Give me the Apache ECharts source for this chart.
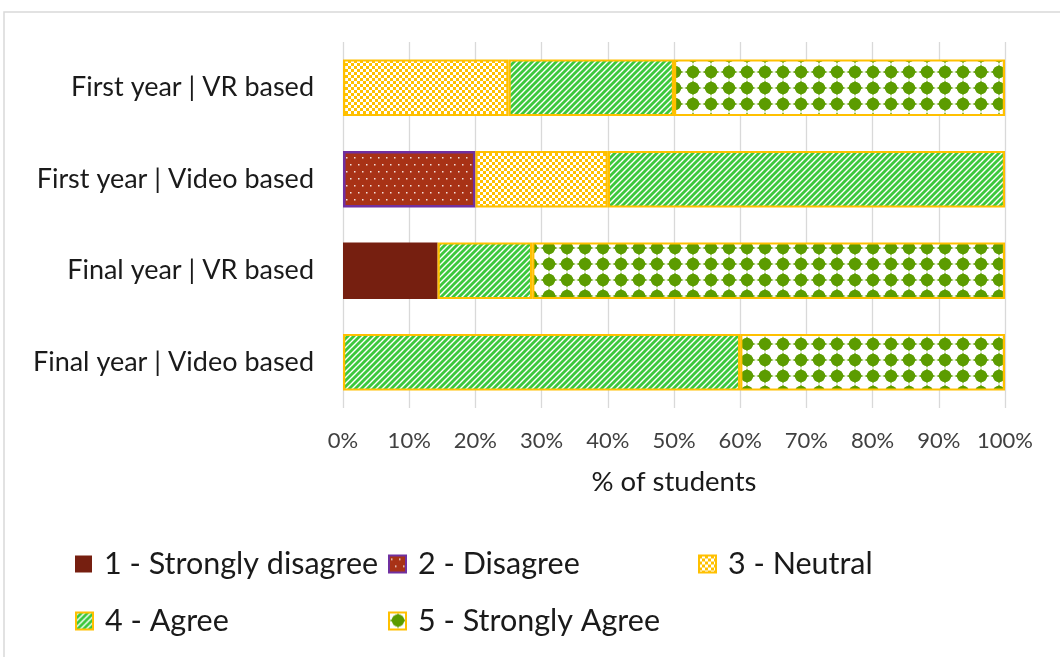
<!DOCTYPE html>
<html>
<head>
<meta charset="utf-8">
<script src="https://cdn.jsdelivr.net/npm/echarts@6/dist/echarts.min.js"></script>
<style>
  html, body { margin: 0; padding: 0; background: #fff; }
  #chart { width: 1060px; height: 657px; }
</style>
</head>
<body>
<div id="chart"></div>
<script>
// Survey responses per student group, as % of students (top to bottom)
const categories = [
  'First year | VR based',
  'First year | Video based',
  'Final year | VR based',
  'Final year | Video based'
];
const levelNames = [
  '1 - Strongly disagree',
  '2 - Disagree',
  '3 - Neutral',
  '4 - Agree',
  '5 - Strongly Agree'
];
const stronglyDisagree = [0, 0, 14.29, 0];
const disagree         = [0, 20, 0, 0];
const neutral          = [25, 20, 0, 0];
const agree            = [25, 60, 14.29, 60];
const stronglyAgree    = [50, 0, 71.43, 40];
const xTicks = [0, 10, 20, 30, 40, 50, 60, 70, 80, 90, 100];

const FONT = 'Lato, "Open Sans", sans-serif';
const YELLOW = '#FFC000';

// ---- fill patterns drawn on small canvas tiles ----
function tile(w, h, draw) {
  const c = document.createElement('canvas');
  c.width = w; c.height = h;
  draw(c.getContext('2d'), w, h);
  return { image: c, repeat: 'repeat' };
}
const checkerFill = tile(6, 6, (g) => {
  g.fillStyle = '#fff'; g.fillRect(0, 0, 6, 6);
  g.fillStyle = YELLOW;
  g.fillRect(0, 0, 3, 3); g.fillRect(3, 3, 3, 3);
});
const stripeFill = tile(6, 6, (g, w, h) => {
  g.fillStyle = '#fff'; g.fillRect(0, 0, w, h);
  g.strokeStyle = '#3CC83C'; g.lineWidth = 2.9;
  for (let k = -1; k <= 1; k++) {
    g.beginPath();
    g.moveTo(k * w - 1, h + 1);
    g.lineTo(k * w + w + 1, -1);
    g.stroke();
  }
});
const starFill = tile(18, 16, (g, w, h) => {
  g.fillStyle = '#fff'; g.fillRect(0, 0, w, h);
  g.fillStyle = '#5C9C00';
  const cx = w / 2, cy = h / 2;
  g.beginPath(); g.arc(cx, cy, 6.2, 0, Math.PI * 2); g.fill();
  g.beginPath();
  g.moveTo(cx, cy - 8); g.lineTo(cx + 3.2, cy);
  g.lineTo(cx, cy + 8); g.lineTo(cx - 3.2, cy); g.closePath(); g.fill();
  g.beginPath();
  g.moveTo(cx - 8.8, cy); g.lineTo(cx, cy - 3.2);
  g.lineTo(cx + 8.8, cy); g.lineTo(cx, cy + 3.2); g.closePath(); g.fill();
});
const dotFill = tile(8, 14, (g, w, h) => {
  g.fillStyle = '#A83216'; g.fillRect(0, 0, w, h);
  g.fillStyle = 'rgba(255,255,255,0.85)';
  g.fillRect(2, 3, 1.5, 1.5);
  g.fillRect(6, 10, 1.5, 1.5);
});

const levelData = [stronglyDisagree, disagree, neutral, agree, stronglyAgree];
const levelStyles = [
  { color: '#761F10', borderWidth: 0 },
  { color: dotFill, borderColor: '#7030A0', borderWidth: 2.5 },
  { color: checkerFill, borderColor: YELLOW, borderWidth: 2.2 },
  { color: stripeFill, borderColor: YELLOW, borderWidth: 2.2 },
  { color: starFill, borderColor: YELLOW, borderWidth: 2.2 }
];

const series = levelNames.map((name, i) => ({
  name,
  type: 'bar',
  stack: 'total',
  barWidth: '62%',
  itemStyle: levelStyles[i],
  emphasis: { disabled: true },
  data: levelData[i].map(v => (v === 0 ? '-' : v))
}));

// legend entries laid out in a 3 + 2 grid
const legendPos = [[75, 547], [388, 547], [698, 547], [75, 604], [388, 604]];
const legends = levelNames.map((name, i) => ({
  data: [name],
  left: legendPos[i][0],
  top: legendPos[i][1],
  padding: 0,
  itemWidth: 17,
  itemHeight: 17,
  icon: 'rect',
  selectedMode: false,
  textStyle: {
    fontFamily: FONT, fontSize: 30.5, color: '#1a1a1a',
    lineHeight: 34, padding: [0, 0, 0, 7]
  }
}));

const chart = echarts.init(document.getElementById('chart'), null, { renderer: 'canvas' });
chart.setOption({
  animation: false,
  backgroundColor: '#fff',
  graphic: [{
    type: 'rect',
    shape: { x: 4, y: 12, width: 1100, height: 700 },
    style: { fill: 'none', stroke: '#D9D9D9', lineWidth: 1.5 },
    silent: true
  }],
  legend: legends,
  grid: { left: 343, right: 55, top: 42, bottom: 249, containLabel: false },
  xAxis: {
    type: 'value',
    min: 0, max: 100, interval: 10,
    axisLine: { show: false },
    axisTick: { show: false },
    splitLine: { lineStyle: { color: '#D9D9D9', width: 1.3 } },
    axisLabel: {
      margin: 22,
      fontFamily: FONT, fontSize: 22, color: '#404040',
      formatter: v => (xTicks.includes(v) ? v + '%' : '')
    },
    name: '% of students',
    nameLocation: 'middle',
    nameGap: 60,
    nameTextStyle: { fontFamily: FONT, fontSize: 27.5, color: '#1a1a1a' }
  },
  yAxis: {
    type: 'category',
    inverse: true,
    data: categories,
    axisLine: { show: false },
    axisTick: { show: false },
    axisLabel: {
      margin: 29,
      fontFamily: FONT, fontSize: 27, color: '#1a1a1a'
    }
  },
  series
});
</script>
</body>
</html>
